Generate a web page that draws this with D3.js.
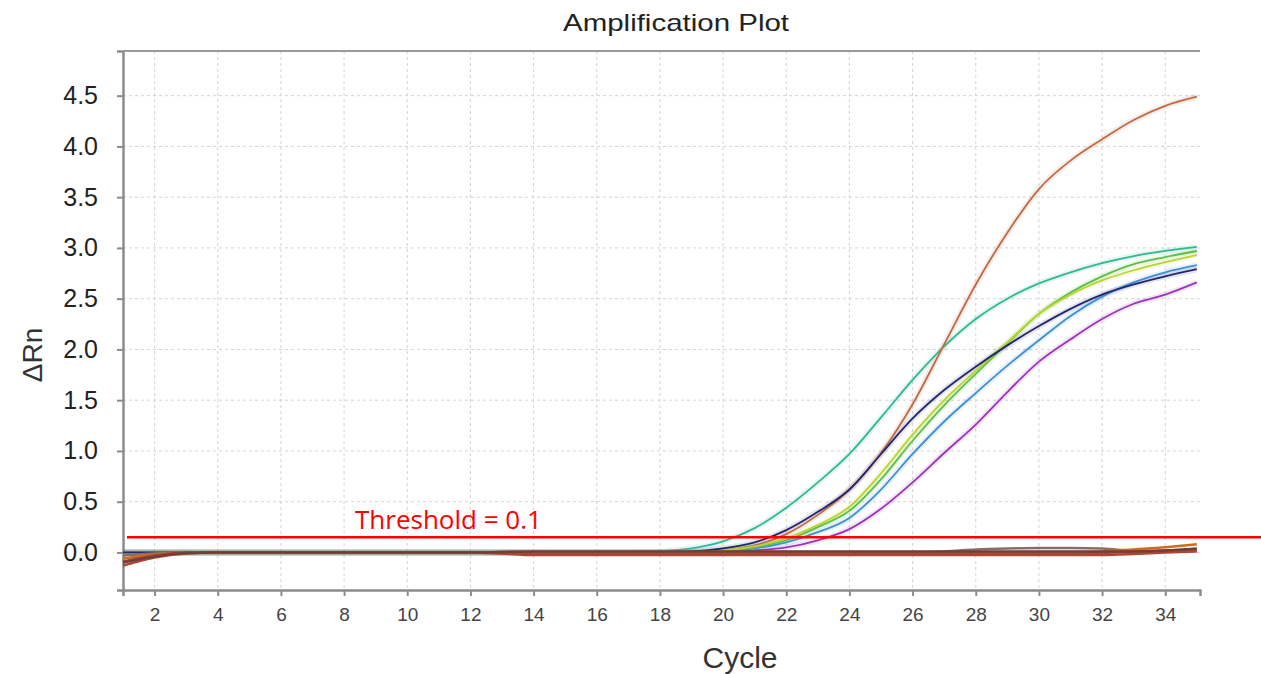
<!DOCTYPE html>
<html>
<head>
<meta charset="utf-8">
<script src="https://cdn.jsdelivr.net/npm/d3@7"></script>
<style>
  body { margin: 0; background: #fff; }
  svg { display: block; }
</style>
</head>
<body>
<svg id="chart"></svg>
<script>
// cycles on the x axis
const cycles = [1, 2, 3, 4, 5, 6, 7, 8, 9, 10, 11, 12, 13, 14, 15, 16, 17, 18,
  19, 20, 21, 22, 23, 24, 25, 26, 27, 28, 29, 30, 31, 32, 33, 34, 35];
const xTicks = [2, 4, 6, 8, 10, 12, 14, 16, 18, 20, 22, 24, 26, 28, 30, 32, 34];
const yTicks = [0, 0.5, 1, 1.5, 2, 2.5, 3, 3.5, 4, 4.5];

// amplifying samples (delta Rn per cycle)
const teal = [0, 0, 0, 0, 0, 0, 0, 0, 0, 0, 0, 0, 0, 0, 0, 0, 0, 0.01,
  0.04, 0.11, 0.24, 0.44, 0.69, 0.97, 1.33, 1.70, 2.03, 2.30, 2.50, 2.65, 2.76, 2.85, 2.92, 2.97, 3.01];
const orange = [0, 0, 0, 0, 0, 0, 0, 0, 0, 0, 0, 0, 0, 0, 0, 0, 0, 0,
  0, 0.02, 0.07, 0.18, 0.37, 0.62, 0.98, 1.46, 2.05, 2.64, 3.15, 3.58, 3.86, 4.07, 4.26, 4.40, 4.49];
const navy = [0, 0, 0, 0, 0, 0, 0, 0, 0, 0, 0, 0, 0, 0, 0, 0, 0, 0,
  0.01, 0.04, 0.10, 0.22, 0.40, 0.62, 0.97, 1.32, 1.60, 1.83, 2.04, 2.23, 2.40, 2.54, 2.64, 2.72, 2.79];
const yellowGreen = [0, 0, 0, 0, 0, 0, 0, 0, 0, 0, 0, 0, 0, 0, 0, 0, 0, 0,
  0, 0.02, 0.06, 0.14, 0.27, 0.45, 0.78, 1.16, 1.50, 1.79, 2.07, 2.35, 2.54, 2.68, 2.78, 2.86, 2.93];
const green = [0, 0, 0, 0, 0, 0, 0, 0, 0, 0, 0, 0, 0, 0, 0, 0, 0, 0,
  0, 0.02, 0.05, 0.12, 0.25, 0.41, 0.72, 1.10, 1.45, 1.76, 2.06, 2.35, 2.56, 2.72, 2.84, 2.91, 2.97];
const blue = [0, 0, 0, 0, 0, 0, 0, 0, 0, 0, 0, 0, 0, 0, 0, 0, 0, 0,
  0, 0.01, 0.04, 0.10, 0.20, 0.34, 0.62, 0.97, 1.29, 1.57, 1.84, 2.09, 2.33, 2.52, 2.66, 2.76, 2.83];
const purple = [0, 0, 0, 0, 0, 0, 0, 0, 0, 0, 0, 0, 0, 0, 0, 0, 0, 0,
  0, 0, 0.02, 0.05, 0.12, 0.23, 0.43, 0.69, 0.98, 1.26, 1.58, 1.88, 2.10, 2.30, 2.45, 2.54, 2.66];

// non-amplifying samples hugging the baseline
const negA = [-0.13, -0.05, -0.01, 0, 0, 0, 0, 0, 0, 0, 0, 0, -0.01, -0.025, -0.025, -0.025, -0.025, -0.025,
  -0.025, -0.025, -0.025, -0.025, -0.025, -0.025, -0.025, -0.025, -0.025, -0.025, -0.025, -0.025, -0.025, -0.025, -0.015, 0, 0.01];
const negB = [-0.09, -0.03, 0, 0, 0, 0, 0, 0, 0, 0, 0, 0, -0.005, -0.012, -0.012, -0.012, -0.012, -0.012,
  -0.012, -0.012, -0.012, -0.012, -0.012, -0.012, -0.012, -0.012, -0.012, -0.012, -0.012, -0.012, -0.012, -0.005, 0.01, 0.02, 0.03];
const negC = [-0.06, -0.02, 0, 0, 0, 0, 0, 0, 0, 0, 0, 0, 0, 0, 0, 0, 0, 0,
  0, 0, 0, 0, 0, 0, 0, 0, 0, 0, 0, 0, 0, 0.01, 0.03, 0.05, 0.08];
const negD = [-0.03, -0.01, 0, 0, 0, 0, 0, 0, 0, 0, 0, 0, 0.005, 0.005, 0.005, 0.005, 0.005, 0.005,
  0.005, 0.005, 0.005, 0.005, 0.005, 0.005, 0.005, 0.005, 0.01, 0.03, 0.04, 0.045, 0.045, 0.04, 0.015, 0.01, 0.02];
const negE = [-0.1, -0.04, -0.005, 0, 0, 0, 0, 0, 0, 0, 0, 0, 0.005, 0.01, 0.01, 0.01, 0.01, 0.01,
  0.01, 0.01, 0.01, 0.01, 0.01, 0.01, 0.01, 0.01, 0.01, 0.01, 0.01, 0.01, 0.01, 0.01, 0.01, 0.02, 0.04];

const thresholdValue = 0.15;
const thresholdLabel = 'Threshold = 0.1';

const width = 1261, height = 674;
const mLeft = 123, mRight = 1200, mTop = 51, mBottom = 590;

const svg = d3.select('#chart')
  .attr('width', width)
  .attr('height', height)
  .attr('viewBox', `0 0 ${width} ${height}`);

svg.append('rect').attr('width', width).attr('height', height).attr('fill', '#fff');

const x = d3.scaleLinear().domain([1, 35.1]).range([mLeft, mRight]);
const y = d3.scaleLinear().domain([-0.37, 4.94]).range([mBottom, mTop]);

// grid
svg.append('g')
  .selectAll('line')
  .data(xTicks)
  .enter().append('line')
    .attr('x1', d => x(d)).attr('x2', d => x(d))
    .attr('y1', mTop).attr('y2', mBottom)
    .style('stroke', '#d4d4d4')
    .style('stroke-width', '1px')
    .style('stroke-dasharray', '3, 3');
svg.append('g')
  .selectAll('line')
  .data(yTicks)
  .enter().append('line')
    .attr('x1', mLeft).attr('x2', mRight)
    .attr('y1', d => y(d)).attr('y2', d => y(d))
    .style('stroke', '#d4d4d4')
    .style('stroke-width', '1px')
    .style('stroke-dasharray', '3, 3');

// axes
const yAxis = svg.append('g')
  .attr('transform', `translate(${mLeft}, 0)`)
  .call(d3.axisLeft(y).tickValues(yTicks).tickSize(6).tickPadding(19).tickFormat(d3.format('.1f')));
const xAxis = svg.append('g')
  .attr('transform', `translate(0, ${mBottom})`)
  .call(d3.axisBottom(x).tickValues(xTicks).tickSize(6).tickPadding(12));
[yAxis, xAxis].forEach(g => {
  g.select('.domain').style('stroke', '#8c8c8c').style('stroke-width', '2.5px');
  g.selectAll('.tick line').style('stroke', '#8c8c8c').style('stroke-width', '2px');
});
yAxis.selectAll('text')
  .style('font-family', '"Liberation Sans", Arial, sans-serif')
  .style('font-size', '25px')
  .style('fill', '#222');
xAxis.selectAll('text')
  .style('font-family', '"Liberation Sans", Arial, sans-serif')
  .style('font-size', '19px')
  .style('fill', '#444');
svg.append('line')
  .attr('x1', mLeft).attr('x2', mRight)
  .attr('y1', mTop).attr('y2', mTop)
  .style('stroke', '#9a9a9a')
  .style('stroke-width', '2px');

// curves
const line = d3.line()
  .x((d, i) => x(cycles[i]))
  .y(d => y(d))
  .curve(d3.curveMonotoneX);

const samples = [
  { values: teal, color: '#30b893' },
  { values: orange, color: '#c06a45' },
  { values: purple, color: '#9b35b8' },
  { values: blue, color: '#3d8fd6' },
  { values: green, color: '#5cbf4a' },
  { values: yellowGreen, color: '#b9d42c' },
  { values: navy, color: '#24266e' }
];
const negatives = [
  { values: negD, color: '#8a6d66' },
  { values: negC, color: '#cf6a1e' },
  { values: negA, color: '#b04432' },
  { values: negB, color: '#a84535' },
  { values: negE, color: '#704038' }
];

const plot = svg.append('g');
plot.selectAll('path.halo')
  .data(samples)
  .enter().append('path')
    .attr('class', 'halo')
    .attr('d', d => line(d.values))
    .style('fill', 'none')
    .style('stroke', d => d.color)
    .style('stroke-opacity', 0.12)
    .style('stroke-width', '6px');
plot.selectAll('path.sample')
  .data(samples)
  .enter().append('path')
    .attr('class', 'sample')
    .attr('d', d => line(d.values))
    .style('fill', 'none')
    .style('stroke', d => d.color)
    .style('stroke-width', '1.8px');
plot.selectAll('path.neg')
  .data(negatives)
  .enter().append('path')
    .attr('class', 'neg')
    .attr('d', d => line(d.values))
    .style('fill', 'none')
    .style('stroke', d => d.color)
    .style('stroke-width', '2.5px');

// threshold annotation
svg.append('line')
  .attr('x1', mLeft + 4).attr('x2', width)
  .attr('y1', y(thresholdValue)).attr('y2', y(thresholdValue))
  .style('stroke', '#ff0000')
  .style('stroke-width', '2.5px');
svg.append('text')
  .attr('x', 355)
  .attr('y', y(thresholdValue) - 8)
  .style('font-family', '"Open Sans", "Noto Sans", sans-serif')
  .style('font-size', '26px')
  .style('fill', '#ff0000')
  .text(thresholdLabel);

// titles
svg.append('text')
  .attr('x', 676).attr('y', 31)
  .attr('text-anchor', 'middle')
  .attr('textLength', 226)
  .attr('lengthAdjust', 'spacingAndGlyphs')
  .style('font-family', '"Liberation Sans", Arial, sans-serif')
  .style('font-size', '24px')
  .style('fill', '#222')
  .text('Amplification Plot');
svg.append('text')
  .attr('x', 740).attr('y', 668)
  .attr('text-anchor', 'middle')
  .style('font-family', '"Liberation Sans", Arial, sans-serif')
  .style('font-size', '30px')
  .style('fill', '#333')
  .text('Cycle');
svg.append('text')
  .attr('transform', 'translate(42, 355) rotate(-90)')
  .attr('text-anchor', 'middle')
  .style('font-family', '"Liberation Sans", Arial, sans-serif')
  .style('font-size', '28px')
  .style('fill', '#333')
  .text('ΔRn');
</script>
</body>
</html>
